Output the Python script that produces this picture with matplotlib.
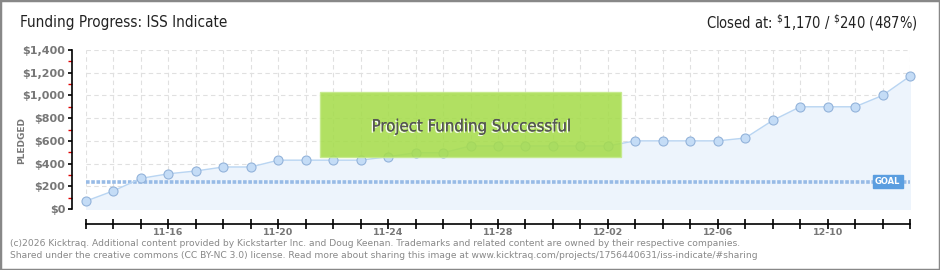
import numpy as np
import matplotlib.pyplot as plt
from matplotlib.patches import Rectangle
import matplotlib.patheffects as pe
from matplotlib.ticker import FuncFormatter, MultipleLocator

plt.rcParams['mathtext.default'] = 'regular'

# daily pledged totals
days = ['11-13', '11-14', '11-15', '11-16', '11-17', '11-18', '11-19', '11-20',
        '11-21', '11-22', '11-23', '11-24', '11-25', '11-26', '11-27', '11-28',
        '11-29', '11-30', '12-01', '12-02', '12-03', '12-04', '12-05', '12-06',
        '12-07', '12-08', '12-09', '12-10', '12-11', '12-12', '12-13']
pledged = [70, 160, 270, 310, 335, 370, 370, 430, 430, 430, 430, 460, 495, 495,
           555, 555, 555, 555, 555, 555, 600, 600, 600, 600, 625, 780, 900, 900,
           900, 1000, 1170]
shown_days = ['11-16', '11-20', '11-24', '11-28', '12-02', '12-06', '12-10']
goal = 240

fig = plt.figure(figsize=(9.4, 2.7), dpi=100)
ax = fig.add_axes([86/940, 61/270, 824/940, 159/270])

x = np.arange(len(days))
ax.fill_between(x, 0, pledged, color='#edf4fc', zorder=1)
ax.plot(x, pledged, color='#b9d5f2', lw=1, zorder=3)
ax.plot(x, pledged, 'o', ms=6.5, mfc='#c4dcf6', mec='#93b3da', mew=0.8,
        zorder=4, clip_on=False)

# goal line
ax.axhline(goal, color='#98bbe6', lw=2.6, dashes=(1.0, 0.45), zorder=2)
ax.text(0.973, goal, 'GOAL', transform=ax.get_yaxis_transform(), ha='center',
        va='center', fontsize=6, color='white', fontweight='bold', zorder=6,
        bbox=dict(boxstyle='square,pad=0.25', fc='#5b9ee0', ec='#5b9ee0'))

ax.set_xlim(0, len(days) - 1)
ax.set_ylim(0, 1400)
ax.set_xticks(x)
ax.set_xticklabels([d if d in shown_days else '' for d in days])
ax.yaxis.set_major_locator(MultipleLocator(200))
ax.yaxis.set_minor_locator(MultipleLocator(100))
ax.yaxis.set_major_formatter(FuncFormatter(lambda v, p: '${:,.0f}'.format(v)))

ax.grid(True, color='#e0e0e0', lw=0.8, dashes=(4, 3))
ax.set_axisbelow(True)
for s in ['top', 'right']:
    ax.spines[s].set_visible(False)
ax.spines['left'].set_position(('outward', 10))
ax.spines['bottom'].set_position(('outward', 11))
ax.spines['left'].set_linewidth(1.2)
ax.spines['bottom'].set_linewidth(1.2)
ax.tick_params(axis='x', direction='inout', length=7, width=1.2, pad=-0.5,
               labelsize=6.8, labelcolor='#777777')
ax.tick_params(axis='y', which='major', direction='out', length=3, width=1.2,
               pad=2, labelsize=8, labelcolor='#777777')
ax.tick_params(axis='y', which='minor', direction='out', length=3, width=1,
               color='#e00000')
for lab in ax.get_yticklabels() + ax.get_xticklabels():
    lab.set_fontweight('bold')

# success banner
ax.add_patch(Rectangle((0.284, 0.327), 0.365, 0.409, transform=ax.transAxes,
                       fc='#a6dc4c', ec='#c4ea8a', lw=1, alpha=0.88, zorder=7))
ax.text(0.468, 0.52, 'Project Funding Successful', transform=ax.transAxes,
        ha='center', va='center', fontsize=12, color='#555555', zorder=8,
        fontstretch='condensed',
        path_effects=[pe.withSimplePatchShadow(offset=(-1, -1),
                                               shadow_rgbFace='white', alpha=0.9),
                      pe.Normal()])

fig.text(22/940, 130/270, 'PLEDGED', rotation=90, ha='center', va='center',
         fontsize=6.5, color='#777777', fontweight='bold')
fig.text(20/940, 1 - 23/270, 'Funding Progress: ISS Indicate', ha='left',
         va='center', fontsize=11, color='#222222', fontstretch='condensed')
fig.text(918/940, 1 - 23/270, r'Closed at: $^{\$}$1,170 / $^{\$}$240 (487%)',
         ha='right', va='center', fontsize=10.5, color='#222222',
         fontstretch='condensed')
fig.text(10/940, 1 - 243/270,
         '(c)2026 Kicktraq. Additional content provided by Kickstarter Inc. and Doug Keenan. '
         'Trademarks and related content are owned by their respective companies.',
         ha='left', va='center', fontsize=6.6, color='#888888')
fig.text(10/940, 1 - 256/270,
         'Shared under the creative commons (CC BY-NC 3.0) license. Read more about sharing '
         'this image at www.kicktraq.com/projects/1756440631/iss-indicate/#sharing',
         ha='left', va='center', fontsize=6.6, color='#888888')

fig.patches.append(Rectangle((0, 0), 1, 1, transform=fig.transFigure, fill=False,
                             ec='#888888', lw=2.5))

fig.savefig('out.png', dpi=100)
